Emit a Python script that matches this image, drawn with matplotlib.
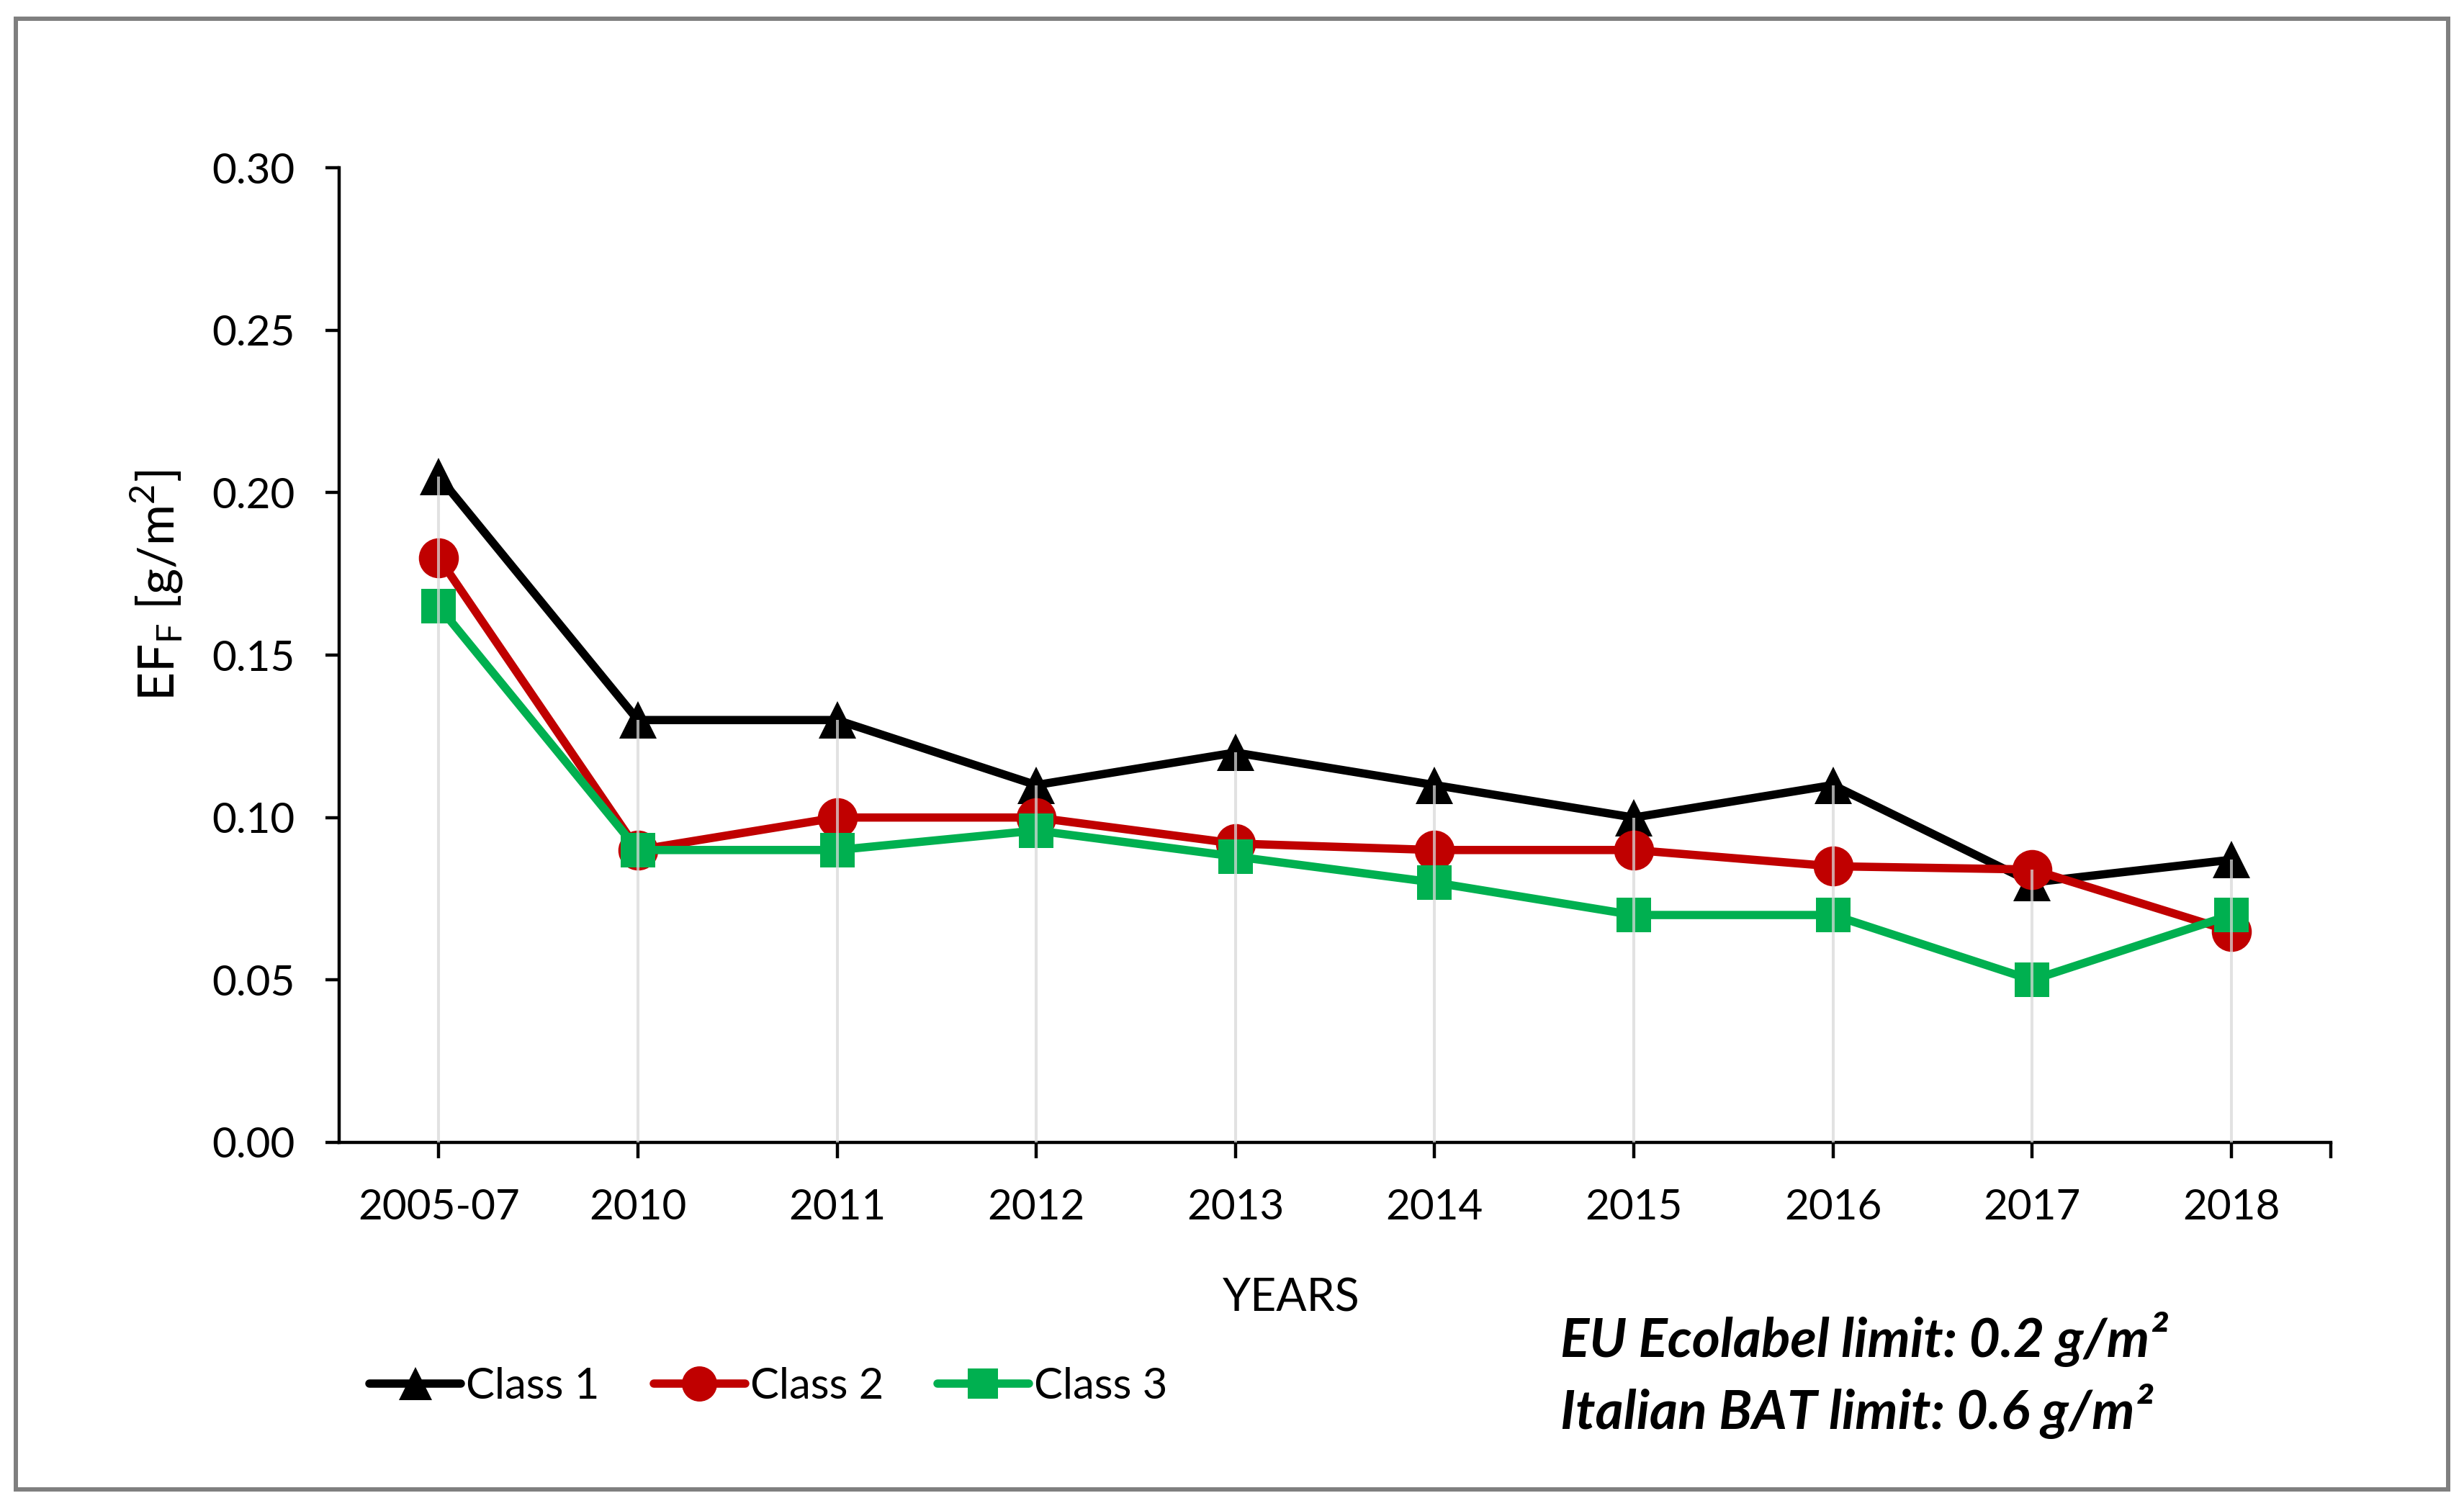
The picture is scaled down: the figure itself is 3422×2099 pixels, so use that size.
import numpy as np
import matplotlib
matplotlib.use("Agg")
import matplotlib.pyplot as plt
from matplotlib.patches import Rectangle

plt.rcParams['font.family'] = ['Lato', 'DejaVu Sans']
plt.rcParams['mathtext.fontset'] = 'custom'
plt.rcParams['mathtext.rm'] = 'Lato'

# ---------------- data ----------------
years = ["2005-07", "2010", "2011", "2012", "2013", "2014", "2015", "2016", "2017", "2018"]
class1 = [0.205, 0.130, 0.130, 0.110, 0.120, 0.110, 0.100, 0.110, 0.080, 0.087]
class2 = [0.180, 0.090, 0.100, 0.100, 0.092, 0.090, 0.090, 0.085, 0.084, 0.065]
class3 = [0.165, 0.090, 0.090, 0.096, 0.088, 0.080, 0.070, 0.070, 0.050, 0.070]
series_names = ["Class 1", "Class 2", "Class 3"]
yticks = [0.00, 0.05, 0.10, 0.15, 0.20, 0.25, 0.30]

colors = ["#000000", "#C00000", "#00B050"]
markers = ["^", "o", "s"]
msizes = [37, 40, 34]

W, H = 3422, 2099
fig = plt.figure(figsize=(W / 100, H / 100), dpi=100)
ax = fig.add_axes([471 / W, 1 - 1587 / H, (3237 - 471) / W, (1587 - 233) / H])

x = np.arange(len(years))
handles = []
for vals, c, m, ms, name in zip([class1, class2, class3], colors, markers, msizes, series_names):
    h, = ax.plot(x, vals, color=c, lw=8.3, marker=m, markersize=ms,
                 markerfacecolor=c, markeredgecolor=c, markeredgewidth=0,
                 label=name, zorder=3, solid_capstyle='round')
    handles.append(h)

# drop lines (drawn on top, light gray)
tops = np.max(np.vstack([class1, class2, class3]), axis=0)
ax.vlines(x, 0, tops, colors="#d9d9d9", lw=2.9, alpha=0.75, zorder=4)

ax.set_xlim(-0.5, len(years) - 0.5)
ax.set_ylim(0, 0.30)
ax.set_yticks(yticks)
ax.set_yticklabels([f"{v:.2f}" for v in yticks])
ax.set_xticks(x)
ax.set_xticklabels(years)
ax.set_xticks([len(years) - 0.5], minor=True)

for s in ["top", "right"]:
    ax.spines[s].set_visible(False)
for s in ["left", "bottom"]:
    ax.spines[s].set_linewidth(3.2)
    ax.spines[s].set_color("black")

ax.tick_params(axis='y', which='major', direction='out', length=14, width=3.2,
               labelsize=42, pad=30)
ax.tick_params(axis='x', which='both', direction='out', length=16, width=3.2,
               labelsize=42, pad=30)

# axis labels as figure text
fig.text(0.0638, 0.6125, r'EF$_\mathregular{F}$ [g/m$^\mathregular{2}$]',
         rotation=90, ha='center', va='center', fontsize=50)
fig.text(0.524, 0.141, "YEARS", ha='center', va='center', fontsize=45)

# legend
fig.legend(handles=handles, loc='center left', bbox_to_anchor=(513 / W, 0.0823),
           ncol=3, frameon=False, fontsize=43, handlelength=2.13, handletextpad=0.12,
           columnspacing=1.25, borderpad=0, borderaxespad=0, markerscale=0.88)

# annotations
fig.text(0.6333, 1 - 862 / 960, "EU Ecolabel limit: 0.2 g/m²", fontsize=54,
         fontweight='bold', fontstyle='italic', ha='left', va='baseline')
fig.text(0.6333, 1 - 908 / 960, "Italian BAT limit: 0.6 g/m²", fontsize=54,
         fontweight='bold', fontstyle='italic', ha='left', va='baseline')

# outer border
fig.patches.append(Rectangle((22 / W, 1 - 2069 / H), (3400 - 22) / W, (2069 - 26) / H,
                             transform=fig.transFigure, fill=False,
                             edgecolor="#7f7f7f", lw=4.3))

fig.savefig("out.png", dpi=100)
